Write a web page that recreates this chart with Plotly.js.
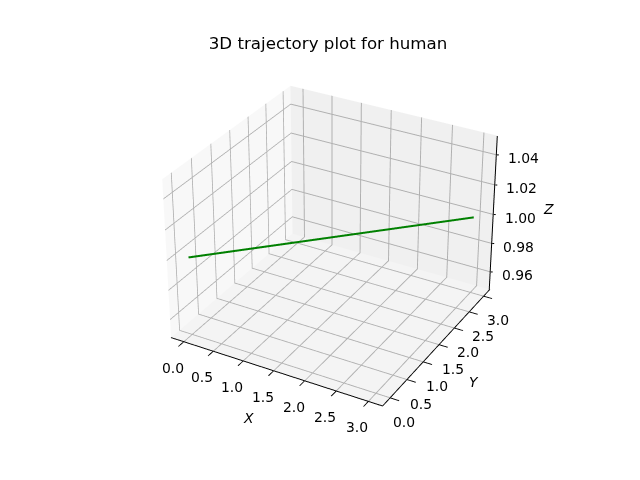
<!DOCTYPE html>
<html><head><meta charset="utf-8">
<script src="https://cdn.plot.ly/plotly-3.0.1.min.js"></script>
<style>html,body{margin:0;padding:0;background:#fff;overflow:hidden;width:640px;height:480px}
#c{position:absolute;left:-626px;top:-483px;width:1920px;height:1440px}</style></head>
<body><div id="c"></div>
<script>
const trajX=[0,1,2,3];
const trajY=[0,1,2,3];
const trajZ=[1,1,1,1];
const xyTicks=[0,0.5,1,1.5,2,2.5,3];
const xyLabels=['0.0','0.5','1.0','1.5','2.0','2.5','3.0'];
const zTicks=[0.96,0.98,1.00,1.02,1.04];
const zLabels=['0.96','0.98','1.00','1.02','1.04'];
const xyRange=[-0.219,3.219];
const zRange=[0.9475,1.0525];
const font={family:'DejaVu Sans',size:13.9,color:'#000'};
function ax(range,tv,tt,bg,line){return {title:{text:''},range:range,tickvals:tv,ticktext:tt,
 showticklabels:false,gridcolor:'#b0b0b0',gridwidth:2,showbackground:true,backgroundcolor:bg,
 showline:line,linecolor:'#000',linewidth:2,zeroline:false,ticks:line?'outside':'',ticklen:8,tickwidth:2,tickcolor:'#000',showspikes:false};}
const lo=xyRange[0], hi=xyRange[1], inset=hi-0.006;
const note=(x,y,z,text,dx,dy)=>({x,y,z,text,showarrow:false,xanchor:'center',yanchor:'middle',xshift:dx,yshift:-dy,font});
const ann=[];
xyTicks.forEach((v,i)=>{ann.push(note(v,lo,zRange[0],xyLabels[i],-11,26));ann.push(note(hi,v,zRange[0],xyLabels[i],14,24));});
zTicks.forEach((z,i)=>{
 ann.push({x:hi,y:hi,z,text:zLabels[i],showarrow:false,xanchor:'left',yanchor:'middle',xshift:9,yshift:-3,font});
 ann.push({x:hi,y:hi,z,text:' ',showarrow:true,arrowhead:0,arrowwidth:1,arrowcolor:'#000',ax:5,ay:0,standoff:0});
});
ann.push(note(1.5,lo,zRange[0],'<i>X</i>',-25,47));
ann.push(note(hi,1.5,zRange[0],'<i>Y</i>',35,37));
ann.push(note(hi,hi,1.0,'<i>Z</i>',55,-6));
Plotly.newPlot('c',[
 {type:'scatter3d',mode:'lines',x:trajX,y:trajY,z:trajZ,line:{color:'green',width:4}},
 {type:'scatter3d',mode:'lines',x:[inset,inset],y:[inset,inset],z:zRange,line:{color:'#000',width:2},hoverinfo:'skip'}
],{
 width:1920,height:1440,paper_bgcolor:'#fff',showlegend:false,margin:{l:0,r:0,t:0,b:0},
 title:{text:'3D trajectory plot for human',x:0.4969,xanchor:'center',y:0.6347,yanchor:'middle',font:{family:'DejaVu Sans',size:16.67,color:'#000'}},
 scene:{domain:{x:[0,1],y:[0,1]},aspectmode:'manual',aspectratio:{x:1,y:1,z:0.75},
  camera:{eye:{x:3.07,y:-5.47,z:3.62},center:{x:0,y:0,z:0},up:{x:0,y:0,z:1},projection:{type:'perspective'}},
  xaxis:ax(xyRange,xyTicks,xyLabels,'#f8f8f8',true),
  yaxis:ax(xyRange,xyTicks,xyLabels,'#f0f0f0',true),
  zaxis:ax(zRange,zTicks,zLabels,'#f4f4f4',false),
  annotations:ann}
},{displayModeBar:false});
</script></body></html>
